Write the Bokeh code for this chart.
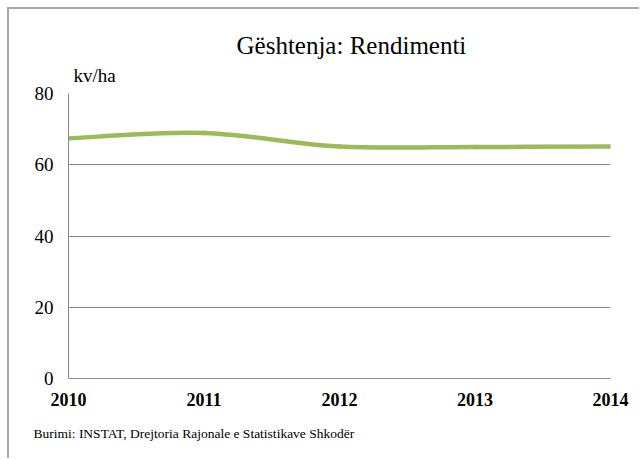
from bokeh.plotting import figure
from bokeh.models import Range1d, FixedTicker, Title
from bokeh.layouts import column
from bokeh.embed import file_html
from bokeh.resources import INLINE

years = [2010, 2011, 2012, 2013, 2014]
yield_kvha = [67.4, 68.9, 65.1, 65.0, 65.1]
y_ticks = [0, 20, 40, 60, 80]
title_text = "Gështenja: Rendimenti"
unit_text = "kv/ha"
source_text = "Burimi: INSTAT, Drejtoria Rajonale e Statistikave Shkodër"

FONT = "Liberation Serif"
GRID = "#8a8a8a"

p = figure(width=630, height=449, output_backend="svg", toolbar_location=None,
           title_location=None,
           x_range=Range1d(2010, 2014), y_range=Range1d(0, 80),
           min_border_left=59, min_border_right=29, min_border_top=84, min_border_bottom=80)
p.outline_line_color = None

# smooth (Catmull-Rom style) curve through the data points
n = len(years)
x0, y0, x1, y1, cx0, cy0, cx1, cy1 = [], [], [], [], [], [], [], []
for i in range(n - 1):
    xp = years[i - 1] if i > 0 else years[i]
    yp = yield_kvha[i - 1] if i > 0 else yield_kvha[i]
    xn = years[i + 2] if i + 2 < n else years[i + 1]
    yn = yield_kvha[i + 2] if i + 2 < n else yield_kvha[i + 1]
    x0.append(years[i]); y0.append(yield_kvha[i])
    x1.append(years[i + 1]); y1.append(yield_kvha[i + 1])
    cx0.append(years[i] + (years[i + 1] - xp) / 6)
    cy0.append(yield_kvha[i] + (yield_kvha[i + 1] - yp) / 6)
    cx1.append(years[i + 1] - (xn - years[i]) / 6)
    cy1.append(yield_kvha[i + 1] - (yn - yield_kvha[i]) / 6)

p.bezier(x0=x0, y0=y0, x1=x1, y1=y1, cx0=cx0, cy0=cy0, cx1=cx1, cy1=cy1,
         line_color="#9BBB59", line_width=4.5, line_cap="round")

p.xaxis.ticker = FixedTicker(ticks=years)
p.yaxis.ticker = FixedTicker(ticks=y_ticks)
p.xgrid.grid_line_color = None
p.ygrid.grid_line_color = GRID
p.ygrid.grid_line_width = 1

for ax in (p.xaxis, p.yaxis):
    ax.major_tick_in = 0
    ax.major_tick_out = 0
    ax.minor_tick_line_color = None
    ax.axis_line_color = GRID
    ax.major_label_text_font = FONT
    ax.major_label_text_color = "black"

p.xaxis.major_label_text_font_size = "18px"
p.xaxis.major_label_text_font_style = "bold"
p.xaxis.major_label_standoff = 14
p.yaxis.major_label_text_font_size = "19px"
p.yaxis.major_label_standoff = 15

unit = Title(text=unit_text, align="left", offset=5, standoff=16,
             text_font=FONT, text_font_size="19px", text_font_style="normal",
             text_color="black")
p.add_layout(unit, "above")
main = Title(text=title_text, align="left", offset=168, standoff=-8,
             text_font=FONT, text_font_size="25px", text_font_style="normal",
             text_color="black")
p.add_layout(main, "above")
src = Title(text=source_text, align="left", offset=-35, standoff=30,
            text_font=FONT, text_font_size="13.5px", text_font_style="normal",
            text_color="black")
p.add_layout(src, "below")

page = column(p, styles={"border-left": "2px solid #a8a8a8", "border-top": "2px solid #a8a8a8",
                         "margin-left": "7px", "margin-top": "7px"})

open("out.html", "w").write(file_html(page, INLINE))
